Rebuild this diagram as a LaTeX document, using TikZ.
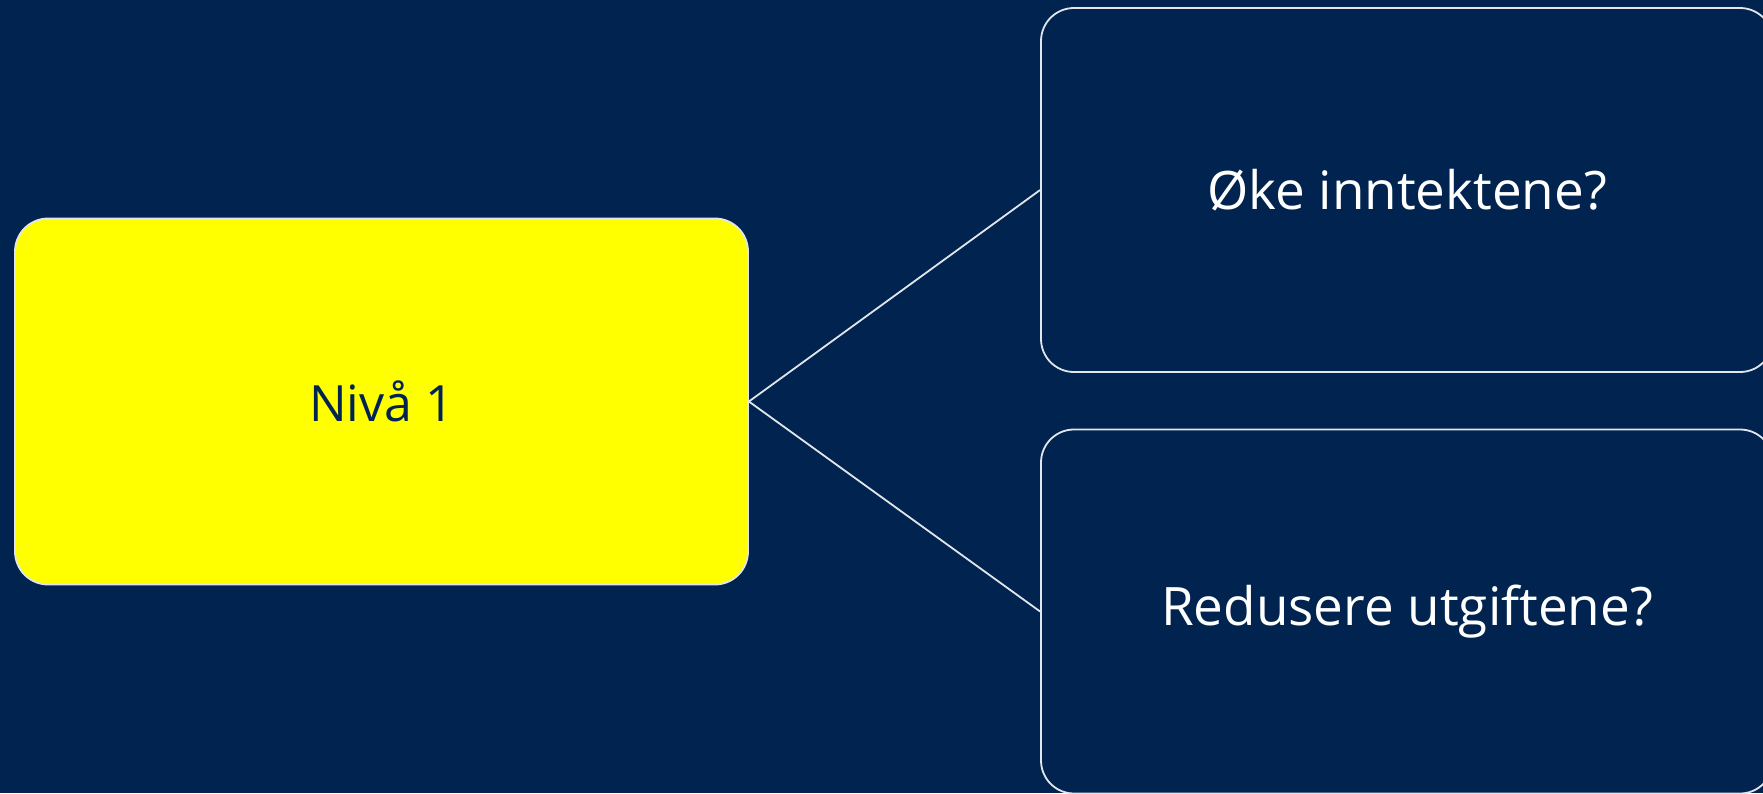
\documentclass[tikz,border=0pt]{standalone}
\usepackage{fontspec}
\setmainfont{Open Sans}
\definecolor{navy}{HTML}{00244F}
\definecolor{edge}{HTML}{E2E6EC}
\definecolor{brightyellow}{RGB}{255,255,0}
\begin{document}
\begin{tikzpicture}[x=1pt,y=-1pt,
  box/.style={draw=edge,line width=1.8pt,rounded corners=33pt,rectangle,inner sep=0pt,
    minimum width=733pt,minimum height=366pt,font=\fontsize{53}{63}\selectfont},
  link/.style={draw=edge,line width=1.8pt}]
\useasboundingbox (0,0) rectangle (1763,793);
\fill[navy] (0,0) rectangle (1763,793);
\clip (0,0) rectangle (1763,793);
\node[box,fill=brightyellow,text=navy,font=\fontsize{50}{60}\selectfont] (n1) at (381.5,401.5) {Nivå 1};
\node[box,text=white,minimum width=732pt,minimum height=364pt] (a) at (1407,190) {Øke inntektene?};
\node[box,text=white,minimum width=732pt,minimum height=364pt] (b) at (1407,611.5) {Redusere utgiftene?};
\draw[link] (n1.east) -- (a.west);
\draw[link] (n1.east) -- (b.west);
\end{tikzpicture}
\end{document}
